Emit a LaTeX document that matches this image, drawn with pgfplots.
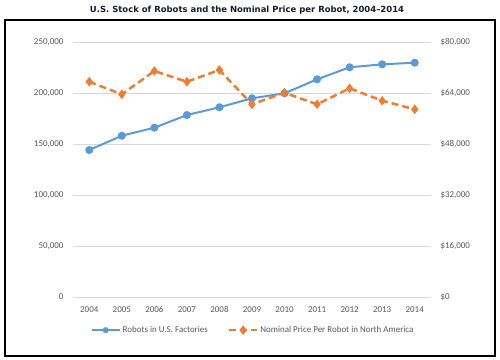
\documentclass[border=0pt]{standalone}
\usepackage{fontspec}
\setmainfont{Carlito}
\newfontfamily\titlefont{DejaVu Sans}
\usepackage{pgfplots}
\pgfplotsset{compat=1.18}
\definecolor{rblue}{HTML}{5B9BD5}
\definecolor{rorange}{HTML}{ED7D31}
\definecolor{tickgray}{HTML}{595959}
\definecolor{gridgray}{HTML}{D9D9D9}
\definecolor{titlecol}{HTML}{1A1A2E}
\begin{document}
\begin{tikzpicture}
\useasboundingbox (0,0) rectangle (500bp,360bp);
\draw[line width=2bp] (5bp,4bp) rectangle (495bp,340bp);
\node[font=\titlefont\bfseries\fontsize{8.5}{10}\selectfont, text=titlecol] at (247bp,350bp) {U.S. Stock of Robots and the Nominal Price per Robot, 2004–2014};
\pgfplotsset{common/.style={scale only axis, width=358bp, height=255bp, at={(73bp,63bp)}, anchor=south west,
  xmin=-0.5, xmax=10.5, axis line style={draw=none}, major tick length=0pt,
  scaled y ticks=false,
  tick label style={font=\fontsize{9}{11}\selectfont, text=tickgray}}}
\begin{axis}[common, ymin=0, ymax=250000, ytick={0,50000,100000,150000,200000,250000},
  yticklabels={0,{50,000},{100,000},{150,000},{200,000},{250,000}},
  yticklabel style={xshift=-6bp},
  xticklabel style={yshift=-6bp},
  ymajorgrids, grid style={gridgray, line width=0.8bp},
  xtick={0,1,2,3,4,5,6,7,8,9,10},
  xticklabels={2004,2005,2006,2007,2008,2009,2010,2011,2012,2013,2014}]
\addplot[rblue, line width=2bp, mark=*, mark size=3bp] coordinates {
(0,144100) (1,158100) (2,166000) (3,178400) (4,186000) (5,194800) (6,199700) (7,213400) (8,225200) (9,228100) (10,229700)};
\end{axis}
\begin{axis}[common, ymin=0, ymax=80000, ytick={0,16000,32000,48000,64000,80000},
  yticklabels={\$0,{\$16,000},{\$32,000},{\$48,000},{\$64,000},{\$80,000}},
  yticklabel pos=right, yticklabel style={xshift=6bp}, xtick=\empty,
  legend style={at={(0.503,-0.13)}, anchor=center, draw=none, fill=none, legend columns=2,
    font=\fontsize{9}{11}\selectfont, text=tickgray,
    /tikz/every even column/.append style={column sep=18bp}},
  legend image code/.code={\draw[mark repeat=2, mark phase=2] plot coordinates {(0bp,0bp) (14bp,0bp) (28bp,0bp)};}]
\addlegendimage{rblue, line width=2bp, mark=*, mark size=2bp}
\addlegendentry{Robots in U.S. Factories}
\addplot[rorange, line width=2.5bp, dash pattern=on 7bp off 4bp, mark=diamond*, mark size=2.8bp, mark options={solid}] coordinates {
(0,67540) (1,63590) (2,70900) (3,67540) (4,71210) (5,60450) (6,64090) (7,60450) (8,65470) (9,61580) (10,58880)};
\addlegendentry{Nominal Price Per Robot in North America}
\end{axis}
\end{tikzpicture}
\end{document}
